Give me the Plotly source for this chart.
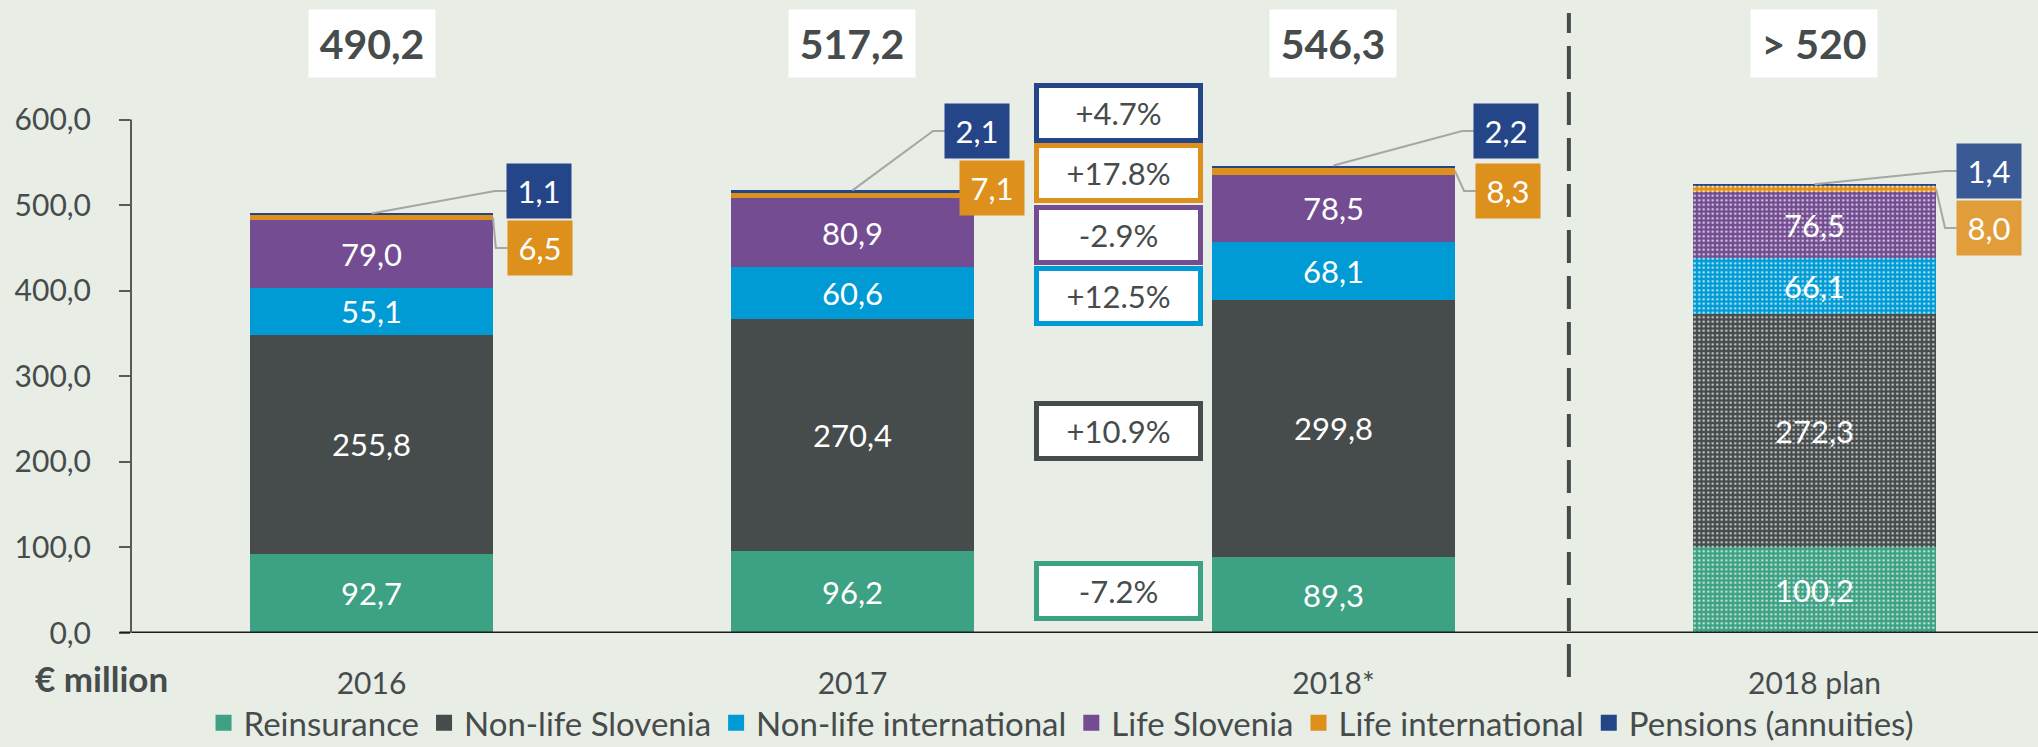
import plotly.graph_objects as go

# ---------------- data ----------------
categories = ["2016", "2017", "2018*", "2018 plan"]
series_names = ["Reinsurance", "Non-life Slovenia", "Non-life international",
                "Life Slovenia", "Life international", "Pensions (annuities)"]
reinsurance = [92.7, 96.2, 89.3, 100.2]
nonlife_slovenia = [255.8, 270.4, 299.8, 272.3]
nonlife_international = [55.1, 60.6, 68.1, 66.1]
life_slovenia = [79.0, 80.9, 78.5, 76.5]
life_international = [6.5, 7.1, 8.3, 8.0]
pensions = [1.1, 2.1, 2.2, 1.4]
total_labels = ["490,2", "517,2", "546,3", "> 520"]
change_labels = ["-7.2%", "+10.9%", "+12.5%", "-2.9%", "+17.8%", "+4.7%"]
y_tick_values = [0, 100, 200, 300, 400, 500, 600]
unit_label = "€ million"

series_values = [reinsurance, nonlife_slovenia, nonlife_international,
                 life_slovenia, life_international, pensions]

# ---------------- styles / layout positions ----------------
colors = ["#3DA184", "#464B4B", "#009BD4", "#734C91", "#DD901C", "#244587"]
callout_colors_plan = ["#3a5a96", "#e09d3a"]
BG = "#E8EDE6"
TXT = "#464B4B"
FONT = "Lato, sans-serif"
x_pos = list(range(len(categories)))
bar_width = 0.505
pattern_shapes = ["", "", "", "."]

change_x = 1.552
change_y = [49.1, 236.1, 393.8, 465.1, 537.6, 607.7]
navy_box = [(0.348, 516.5), (1.259, 586.6), (2.359, 586.6), (3.363, 539.9)]
orange_box = [(0.350, 449.9), (1.290, 520.0), (2.363, 516.5), (3.363, 473.3)]
orange_leader = [True, False, True, True]
box_half_w = 0.0665
elbow_dx = 0.025
total_y = 689

fig = go.Figure()

for name, vals, col in zip(series_names, series_values, colors):
    big = name not in ("Life international", "Pensions (annuities)")
    fig.add_trace(go.Bar(
        x=x_pos, y=vals, name=name, width=bar_width,
        marker=dict(color=col, line=dict(width=0),
                    pattern=dict(shape=pattern_shapes, fgcolor="white", bgcolor=col,
                                 fgopacity=0.75, size=4.5, solidity=0.22,
                                 fillmode="replace")),
        texttemplate="%{y:.1f}" if big else None,
        textposition="inside" if big else "none",
        insidetextanchor="middle", textangle=0, constraintext="none",
        textfont=dict(family=FONT, size=31, color="white"),
        showlegend=False, hoverinfo="skip"))

# legend entries
for name, col in zip(series_names, colors):
    fig.add_trace(go.Scatter(x=[None], y=[None], mode="markers", name=name,
                             marker=dict(symbol="square", size=20, color=col)))

# leader lines
cum = [[sum(v[i] for v in series_values[:k + 1]) for i in range(len(categories))]
       for k in range(len(series_values))]
for i in range(len(categories)):
    bx, by = navy_box[i]
    left = bx - box_half_w
    fig.add_trace(go.Scatter(
        x=[x_pos[i], left - elbow_dx, left], y=[cum[5][i], by, by],
        mode="lines", line=dict(color="#A6A6A6", width=2),
        showlegend=False, hoverinfo="skip"))
    if orange_leader[i]:
        ox, oy = orange_box[i]
        left = ox - box_half_w
        mid = (cum[3][i] + cum[4][i]) / 2
        fig.add_trace(go.Scatter(
            x=[x_pos[i] + bar_width / 2, left - elbow_dx, left], y=[mid, oy, oy],
            mode="lines", line=dict(color="#A6A6A6", width=2),
            showlegend=False, hoverinfo="skip"))

annotations = []
# totals
for i, t in enumerate(total_labels):
    annotations.append(dict(x=x_pos[i], y=total_y, xref="x", yref="y", text="<b>%s</b>" % t,
                            showarrow=False, bgcolor="white", borderpad=0,
                            width=126 if len(t) < 6 else 157, height=67,
                            font=dict(family=FONT, size=41, color=TXT)))
# change boxes
for lab, yy, col in zip(change_labels, change_y, colors):
    annotations.append(dict(x=change_x, y=yy, xref="x", yref="y", text=lab, showarrow=False,
                            bgcolor="white", bordercolor=col, borderwidth=5, borderpad=0,
                            width=159, height=50,
                            font=dict(family=FONT, size=31, color=TXT)))
# callouts
for i in range(len(categories)):
    for (bx, by), vals, k in ((navy_box[i], pensions, 0), (orange_box[i], life_international, 1)):
        col = colors[5] if k == 0 else colors[4]
        if i == 3:
            col = callout_colors_plan[k]
        annotations.append(dict(x=bx, y=by, xref="x", yref="y",
                                text=("%.1f" % vals[i]).replace(".", ","),
                                showarrow=False, bgcolor=col, borderpad=0, width=64, height=54,
                                font=dict(family=FONT, size=31, color="white")))
annotations.append(dict(x=-0.0514, y=-0.071, xref="paper", yref="paper", xanchor="left",
                        yanchor="middle", text="<b>%s</b>" % unit_label, showarrow=False,
                        font=dict(family=FONT, size=35, color=TXT)))

shapes = [
    dict(type="line", xref="paper", yref="y", x0=-0.006, x1=1, y0=0, y1=0,
         line=dict(color="#1a1a1a", width=3)),
    dict(type="line", xref="paper", yref="y", x0=0, x1=0, y0=0, y1=600,
         line=dict(color="#595959", width=2)),
    dict(type="line", xref="paper", yref="paper", x0=0.754, x1=0.754, y0=-0.0695, y1=0.9795,
         line=dict(color=TXT, width=4, dash="33px,13px")),
]

fig.update_layout(
    width=2038, height=747, barmode="stack",
    separators=", ",
    paper_bgcolor=BG, plot_bgcolor=BG,
    margin=dict(l=131, r=0, t=0, b=114, autoexpand=False),
    font=dict(family=FONT, color=TXT),
    xaxis=dict(range=[-0.5, 3.4647], tickvals=x_pos, ticktext=categories,
               showgrid=False, zeroline=False, showline=False,
               ticks="", ticklabelstandoff=30,
               tickfont=dict(family=FONT, size=30, color=TXT)),
    yaxis=dict(range=[0, 739.7], tickvals=y_tick_values, tickformat=".1f",
               showgrid=False, zeroline=False, showline=False,
               ticks="outside", ticklen=11, tickwidth=2, tickcolor="#595959",
               ticklabelstandoff=22,
               tickfont=dict(family=FONT, size=30, color=TXT)),
    legend=dict(orientation="h", x=0.4877, xanchor="center", y=-0.142, yanchor="middle",
                traceorder="normal",
                font=dict(family=FONT, size=33, color=TXT), bgcolor="rgba(0,0,0,0)",
                itemsizing="trace"),
    annotations=annotations, shapes=shapes,
)

fig.write_html("out.html")
